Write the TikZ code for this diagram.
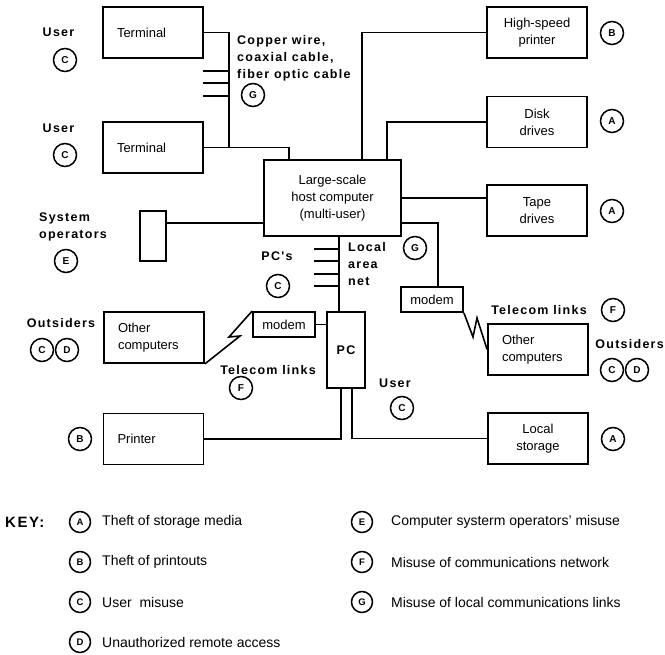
\documentclass[tikz,border=0pt]{standalone}
\usepackage{fontspec}
\setmainfont{Liberation Sans}
\newfontfamily\spacedfont[LetterSpace=10]{Liberation Sans}
\usetikzlibrary{calc}

\begin{document}
\begin{tikzpicture}[
    x=1pt, y=-1pt,
    every node/.style={align=center},
    link/.style={line width=1.6pt},
    box/.style={rectangle, draw, line width=1.8pt, minimum width=100pt, minimum height=51pt, inner sep=0pt, font=\fontsize{13}{17}\selectfont},
    leftbox/.style={box, text width=72pt, align=left},
    smallbox/.style={box, minimum width=62pt, minimum height=25pt},
    tag/.style={circle, draw, line width=1.5pt, minimum size=23pt, inner sep=0pt, font=\bfseries\fontsize{10}{10}\selectfont},
    keytag/.style={tag, minimum size=21pt, font=\bfseries\fontsize{9.5}{9.5}\selectfont},
    lbl/.style={inner sep=0pt, align=left, font=\spacedfont\bfseries\fontsize{12.5}{17}\selectfont},
    keytext/.style={anchor=west, inner sep=0pt, font=\fontsize{14}{16}\selectfont}
]
\useasboundingbox (0,0) rectangle (665,655);

% Equipment boxes
\node[leftbox] (term1) at (153,32.5) {Terminal};
\node[leftbox] (term2) at (153,147.5) {Terminal};
\node[box, minimum width=137pt, minimum height=76pt] (host) at (332.5,198) {Large-scale\\host computer\\(multi-user)};
\node[box] (hsp) at (537,32.5) {High-speed\\printer};
\node[box] (disk) at (537,122) {Disk\\drives};
\node[box] (tape) at (537,210.5) {Tape\\drives};
\node[box, minimum width=26pt, minimum height=50pt] (sysop) at (153,236) {};
\node[smallbox] (modemR) at (432,299.5) {modem};
\node[leftbox] (othR) at (538,349.5) {Other\\computers};
\node[leftbox] (othL) at (154,337.5) {Other\\computers};
\node[smallbox] (modemL) at (284,324.5) {modem};
\node[box, minimum width=38pt, minimum height=76pt, font=\spacedfont\bfseries\fontsize{12.5}{17}\selectfont] (pc) at (346,350) {PC};
\node[leftbox] (printer) at (153.5,439) {Printer};
\node[box] (local) at (538,438.5) {Local\\storage};

% Cabling to the host
\coordinate (tj) at ($(term2.east)+(25,0)$);
\draw[link] (term1.east) -| (tj);
\draw[link] (term2.east) -| ([xshift=26pt]host.north west);
\foreach \y in {71,83,96} \draw[link] (203,\y) -- (228,\y);
\draw[link] (hsp.west) -| ([xshift=99pt]host.north west);
\draw[link] (disk.west) -| ([xshift=124pt]host.north west);
\draw[link] (host.east) -- (host.east -| tape.west);
\coordinate (hostlow) at ([yshift=-25pt]host.east);
\draw[link] (hostlow) -| ([xshift=6pt]modemR.north);
\coordinate (sysline) at ([yshift=13pt]sysop.east);
\draw[link] (sysline) -- (sysline -| host.west);

% Local area net and PC
\coordinate (lan) at ([xshift=-7pt]pc.north);
\draw[link] (lan) -- (lan |- host.south);
\foreach \y in {249,261,274,286} \draw[link] (314,\y) -- (339,\y);
\draw[link] (modemL.east) -- (modemL.east -| pc.west);
\draw[link] ([xshift=-5pt]pc.south) |- (printer.east);
\draw[link] ([xshift=6pt]pc.south) |- (local.west);

% Telecom links (zigzags)
\draw[link] (othL.south east) -- (240,336) -- (229,337) -- (modemL.north west);
\draw[link] (modemR.south east) -- (473,337) -- (477,318) -- (othR.west);

% Labels and threat tags
\node[lbl] (user1) at (58.5,32) {User};
\node[tag] (c1) at (65,60) {C};
\node[lbl] (user2) at (58.5,128) {User};
\node[tag] (c2) at (65,155) {C};
\node[lbl, anchor=west] (wire) at (237,58) {Copper wire,\\coaxial cable,\\fiber optic cable};
\node[tag] (g1) at (253,95) {G};
\node[tag] (b1) at (612,33) {B};
\node[tag] (a1) at (612,121) {A};
\node[tag] (a2) at (612,211) {A};
\node[lbl, anchor=west] (sysopl) at (39,226.5) {System\\operators};
\node[tag] (e1) at (66,261) {E};
\node[lbl] (pcs) at (277,256) {PC's};
\node[tag] (c3) at (278,286) {C};
\node[lbl, anchor=west] (lanl) at (348,264) {Local\\area\\net};
\node[tag] (g2) at (415,248) {G};
\node[lbl] (telR) at (539,310) {Telecom links};
\node[tag] (f1) at (613,310) {F};
\node[lbl, anchor=east] (outR) at (664,344) {Outsiders};
\node[tag] (c4) at (612,370) {C};
\node[tag] (d1) at (637,370) {D};
\node[lbl] (outL) at (61,323) {Outsiders};
\node[tag] (c5) at (42,350) {C};
\node[tag] (d2) at (67,350) {D};
\node[lbl] (telL) at (268,370) {Telecom links};
\node[tag] (f2) at (241,388) {F};
\node[lbl] (user3) at (395,383) {User};
\node[tag] (c6) at (402,408) {C};
\node[tag] (b2) at (80,439) {B};
\node[tag] (a3) at (613,439) {A};

% Key
\node[lbl, anchor=west, font=\spacedfont\bfseries\fontsize{15}{15}\selectfont] (key) at (5,522) {KEY:};
\node[keytag] (keyA) at (80,522) {A};
\node[keytext] (keyAt) at (102,522) {Theft of storage media};
\node[keytag] (keyB) at (80,562) {B};
\node[keytext] (keyBt) at (102,562) {Theft of printouts};
\node[keytag] (keyC) at (80,602) {C};
\node[keytext] (keyCt) at (102,602) {User\ \ misuse};
\node[keytag] (keyD) at (80,642) {D};
\node[keytext] (keyDt) at (102,642) {Unauthorized remote access};
\node[keytag] (keyE) at (362,522) {E};
\node[keytext] (keyEt) at (391,522) {Computer systerm operators' misuse};
\node[keytag] (keyF) at (362,562) {F};
\node[keytext] (keyFt) at (391,562) {Misuse of communications network};
\node[keytag] (keyG) at (362,602) {G};
\node[keytext] (keyGt) at (391,602) {Misuse of local communications links};

\end{tikzpicture}
\end{document}
